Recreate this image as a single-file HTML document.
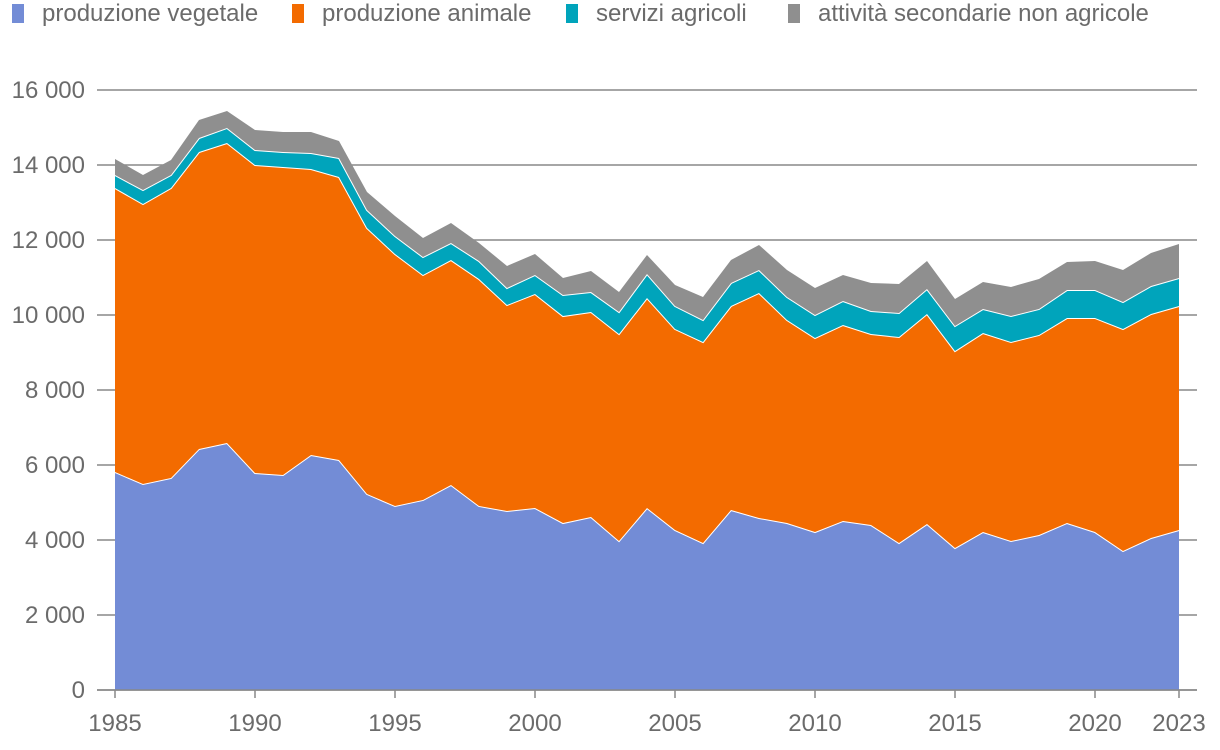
<!DOCTYPE html>
<html><head><meta charset="utf-8"><style>
body{margin:0;background:#fff;font-family:"Liberation Sans",sans-serif;}
svg{display:block}
</style></head><body>
<svg id="c" width="1220" height="750"></svg>
<script>
const years=[];for(let y=1985;y<=2023;y++)years.push(y);
const vegetale=[5813,5493,5653,6427,6587,5787,5733,6267,6133,5227,4907,5067,5467,4907,4773,4853,4453,4613,3973,4853,4267,3920,4800,4587,4453,4213,4507,4400,3920,4427,3787,4213,3973,4133,4453,4213,3707,4053,4267];
const animale=[7574,7467,7734,7920,8000,8213,8214,7626,7547,7093,6720,6000,6000,6053,5494,5707,5520,5467,5520,5600,5360,5360,5440,6000,5414,5174,5226,5093,5493,5600,5253,5307,5307,5334,5467,5707,5920,5974,5973];
const servizi=[346,373,346,373,400,400,400,427,507,480,480,480,453,480,453,507,560,533,587,640,613,587,613,613,613,613,640,614,640,666,667,640,693,693,747,747,720,746,747];
const secondarie=[427,400,400,480,453,533,533,560,453,480,533,506,533,480,587,560,454,560,533,507,560,613,614,667,720,720,694,746,774,747,720,720,774,800,746,773,853,880,906];
const yTicks=[0,2000,4000,6000,8000,10000,12000,14000,16000];
const xTickYears=[1985,1990,1995,2000,2005,2010,2015,2020,2023];
const seriesNames=["produzione vegetale","produzione animale","servizi agricoli","attività  secondarie non agricole"];
const seriesKeys=["vegetale","animale","servizi","secondarie"];
const colors=["#738cd6","#f36b00","#00a4bb","#8f8f8f"];
const series=[vegetale,animale,servizi,secondarie];

const NS="http://www.w3.org/2000/svg";
const svg=document.getElementById('c');
const x=v=>115+(v-1985)*(1179-115)/38;
const y=v=>690-v*600/16000;
function mk(t,a,p){const e=document.createElementNS(NS,t);for(const k in a)e.setAttribute(k,a[k]);(p||svg).appendChild(e);return e;}

yTicks.forEach(v=>{
  const l=mk('line',{x1:97,x2:1197,y1:y(v),y2:y(v),stroke:'#888','stroke-width':1.5});
  
  
  const t=mk('text',{x:85,y:y(v)+8,'text-anchor':'end','font-size':24,fill:'#6b6b6b'});
  t.textContent=v===0?'0':(v/1000)+' 000';
  
  
});

let base=years.map(()=>0);
series.forEach((s,i)=>{
  const top=base.map((b,j)=>b+s[j]);
  let d='M'+years.map((yr,j)=>x(yr)+','+y(top[j])).join('L');
  for(let j=years.length-1;j>=0;j--)d+='L'+x(years[j])+','+y(base[j]);
  d+='Z';
  const p=mk('path',{d:d,fill:colors[i]});
  
  
  if(i<3){
    const ln=mk('polyline',{points:years.map((yr,j)=>x(yr)+','+y(top[j])).join(' '),fill:'none',stroke:'#fff','stroke-width':2});
    
    
  }
  base=top;
});

const ax=mk('line',{x1:97,x2:1197,y1:690,y2:690,stroke:'#888','stroke-width':1.5});


xTickYears.forEach(yr=>{
  const tk=mk('line',{x1:x(yr),x2:x(yr),y1:690,y2:698,stroke:'#888','stroke-width':1.5});
  
  
  const t=mk('text',{x:x(yr),y:731,'text-anchor':'middle','font-size':24,fill:'#6b6b6b'});
  t.textContent=yr;
  
  
});

const lx=[12,292,566,788];
seriesNames.forEach((n,i)=>{
  const g=mk('g',{});
  
  
  mk('rect',{x:lx[i],y:4,width:12,height:19,fill:colors[i]},g);
  const t=mk('text',{x:lx[i]+30,y:21,'font-size':24,fill:'#6b6b6b'},g);
  t.textContent=n;
});
</script>
</body></html>
